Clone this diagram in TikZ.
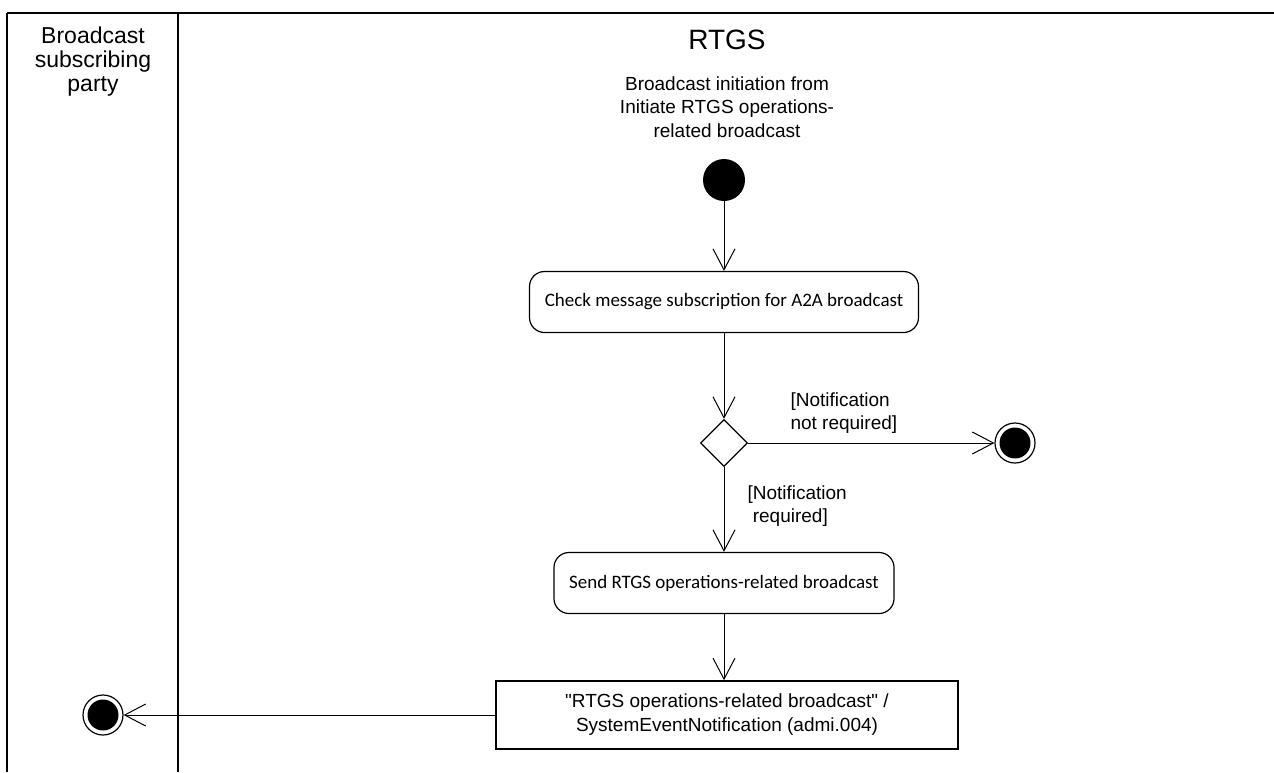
\documentclass[tikz,border=0pt]{standalone}
\usepackage{fontspec}
\setmainfont{Liberation Sans}
\newfontfamily\calibri{Carlito}
\usetikzlibrary{arrows.meta,shapes.geometric}

\tikzset{
    lane/.style={line width=1.6pt},
    startdot/.style={circle, fill=black, minimum size=42pt, inner sep=0pt},
    enddot/.style={circle, draw, line width=1.2pt, minimum size=40pt, inner sep=0pt,
        path picture={\fill[black] (path picture bounding box.center) circle (15.5pt);}},
    action/.style={draw, line width=1.2pt, rounded corners=15pt, minimum height=61pt,
        inner sep=0pt, font=\calibri\fontsize{19}{23}\selectfont},
    decision/.style={diamond, draw, line width=1.2pt, minimum size=47pt, inner sep=0pt},
    objbox/.style={draw, line width=1.6pt, minimum width=462pt, minimum height=68pt,
        align=center, font=\fontsize{19}{24}\selectfont},
    guard/.style={align=left, anchor=west, font=\fontsize{19}{23}\selectfont},
    flow/.style={line width=1pt, -{Straight Barb[length=21pt,width=22pt,line width=1pt]}},
}

\begin{document}
\begin{tikzpicture}[x=1pt, y=-1pt]
    \useasboundingbox (0,0) rectangle (1274,772);

    % Swimlanes: top edge, left edge and the divider
    \draw[lane] (7,13) -- (1274,13);
    \draw[lane] (7,13) -- (7,772);
    \draw[lane] (178,13) -- (178,772);

    % Lane titles
    \node[align=center, font=\fontsize{23}{24}\selectfont] (partytitle) at (93,62)
        {Broadcast\\subscribing\\party};
    \node[font=\fontsize{28}{32}\selectfont] (rtgstitle) at (727,40) {RTGS};
    \node[align=center, font=\fontsize{19}{23.5}\selectfont] (initlabel) at (727,107)
        {Broadcast initiation from\\Initiate RTGS operations-\\related broadcast};

    % Activity nodes
    \node[startdot] (start) at (724,180) {};
    \node[action, minimum width=389pt] (check) at (724,302)
        {Check message subscription for A2A broadcast};
    \node[decision] (required) at (724,443) {};
    \node[enddot] (stopright) at (1015,443) {};
    \node[action, minimum width=340pt] (send) at (724,583)
        {Send RTGS operations-related broadcast};
    \node[objbox] (notification) at (727,715)
        {\textquotedbl RTGS operations-related broadcast\textquotedbl\ /\\SystemEventNotification (admi.004)};
    \node[enddot] (stopleft) at (103,715) {};

    % Flows
    \draw[flow] (start) -- (check);
    \draw[flow] (check.south) -- (required.north);
    \draw[flow] (required.east) -- (stopright);
    \draw[flow] (required.south) -- (send.north);
    \draw[flow] (send.south) -- (send.south |- notification.north);
    \draw[flow] (notification.west) -- (stopleft);

    % Guards
    \node[guard] (notreq) at (787,413) {[Notification\\not required]};
    \node[guard] (req) at (744,506) {[Notification\\\ required]};
\end{tikzpicture}
\end{document}
